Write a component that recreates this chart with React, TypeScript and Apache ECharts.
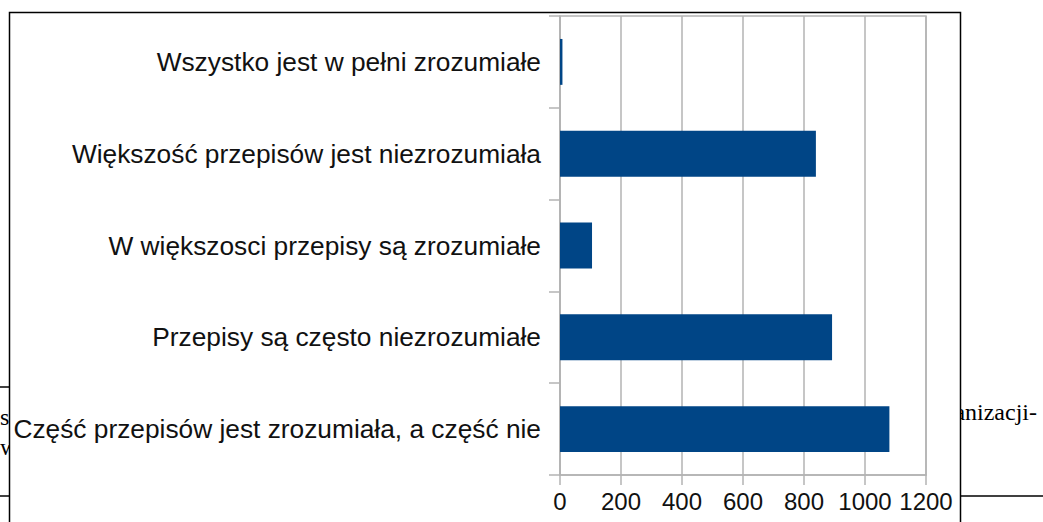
import React, { useEffect, useRef } from "react";
import * as echarts from "echarts";

const categories = [
  "Wszystko jest w pełni zrozumiałe",
  "Większość przepisów jest niezrozumiała",
  "W większosci przepisy są zrozumiałe",
  "Przepisy są często niezrozumiałe",
  "Część przepisów jest zrozumiała, a część nie",
];
const values = [8, 839, 105, 892, 1080];
const xTicks = { min: 0, max: 1200, interval: 200 };

const GRAY = "#b3b3b3";
const BAR = "#004586";
const TXT = "#111111";

export default function App() {
  const ref = useRef<HTMLDivElement>(null);
  useEffect(() => {
    if (!ref.current) return;
    const chart = echarts.init(ref.current, undefined, { renderer: "svg" });
    chart.setOption({
      animation: false,
      backgroundColor: "#ffffff",
      grid: {
        left: 560,
        top: 16,
        right: 117,
        bottom: 47,
        show: true,
        borderColor: GRAY,
        borderWidth: 1.5,
        backgroundColor: "transparent",
      },
      xAxis: {
        type: "value",
        min: xTicks.min,
        max: xTicks.max,
        interval: xTicks.interval,
        axisLine: { show: true, lineStyle: { color: GRAY, width: 1.5 } },
        axisTick: { show: true, length: 10, lineStyle: { color: GRAY, width: 1.5 } },
        splitLine: { show: true, lineStyle: { color: GRAY, width: 1.5 } },
        axisLabel: {
          color: TXT,
          fontFamily: "Liberation Sans",
          fontSize: 24,
          margin: 14,
          formatter: (v: number) => String(v),
        },
      },
      yAxis: {
        type: "category",
        data: categories,
        inverse: true,
        axisLine: { show: true, lineStyle: { color: GRAY, width: 1.5 } },
        axisTick: { show: true, length: 11, lineStyle: { color: GRAY, width: 1.5 } },
        splitLine: { show: false },
        axisLabel: {
          color: TXT,
          fontFamily: "Liberation Sans",
          fontSize: 26.3,
          margin: 19,
        },
      },
      series: [
        {
          type: "bar",
          data: values,
          barCategoryGap: "50%",
          itemStyle: { color: BAR },
        },
      ],
      graphic: [
        {
          type: "text",
          z: -20,
          x: 0,
          y: 417,
          style: { text: "s", font: '24px "Liberation Serif"', fill: "#000", verticalAlign: "middle" },
        },
        {
          type: "text",
          z: -20,
          x: 0,
          y: 447,
          style: { text: "w", font: '24px "Liberation Serif"', fill: "#000", verticalAlign: "middle" },
        },
        {
          type: "text",
          z: -20,
          x: 1037,
          y: 412,
          style: { text: "organizacji-", font: '24px "Liberation Serif"', fill: "#000", align: "right", verticalAlign: "middle" },
        },
        { type: "line", z: -20, shape: { x1: 0, y1: 387, x2: 10, y2: 387 }, style: { stroke: "#000", lineWidth: 1.5 } },
        { type: "line", z: -20, shape: { x1: 0, y1: 496, x2: 10, y2: 496 }, style: { stroke: "#000", lineWidth: 1.5 } },
        { type: "line", z: -20, shape: { x1: 960, y1: 496, x2: 1043, y2: 496 }, style: { stroke: "#000", lineWidth: 1.5 } },
        {
          type: "rect",
          z: -10,
          shape: { x: 9.5, y: 12.5, width: 951, height: 530 },
          style: { fill: "#ffffff", stroke: "#000", lineWidth: 1.5 },
        },
      ],
    });
    return () => chart.dispose();
  }, []);
  return (
    <div
      ref={ref}
      style={{ position: "absolute", left: 0, top: 0, width: 1043, height: 522 }}
    />
  );
}
